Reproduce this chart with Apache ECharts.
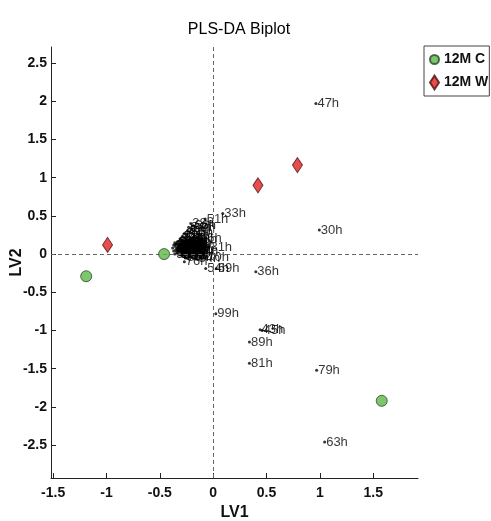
<!DOCTYPE html>
<html><head><meta charset="utf-8">
<script src="https://cdn.jsdelivr.net/npm/echarts@6/dist/echarts.min.js"></script>
<style>html,body{margin:0;padding:0;background:#fff}#c{width:491px;height:521px}</style>
</head><body><div id="c"></div>
<script>
// Scores
const groupNames = ['12M C', '12M W'];
const scoreC = [[-1.19, -0.29], [-0.46, 0.00], [1.58, -1.92]];
const scoreW = [[-0.99, 0.12], [0.42, 0.90], [0.79, 1.165]];
// Loadings (labelled variables)
const loadNames = ['47h','30h','33h','36h','69h','54h','99h','43h','45h','89h','81h','79h','63h','51h','31h','6h','76h','70h',
  '1h','2h','3h','4h','5h','7h','8h','9h','10h','11h','12h','13h','14h','15h','16h','17h','18h','19h','20h',
  '21h','22h','23h','24h','25h','26h','27h','28h','29h','32h','34h','35h','37h','39h','40h','41h','42h','44h',
  '46h','48h','49h','50h','52h','53h','55h','56h','57h','58h','59h','38h','60h','61h','62h','64h','65h','66h',
  '67h','68h','71h','72h','73h','74h','75h','77h','78h','80h','82h','83h','84h'];
const loadX = [0.963,0.995,0.09,0.40,0.03,-0.07,0.025,0.44,0.46,0.34,0.34,0.97,1.045,-0.075,-0.04,-0.07,-0.27,-0.07,
  -0.38,-0.37,-0.37,-0.36,-0.36,-0.355,-0.35,-0.345,-0.34,-0.335,-0.33,-0.325,-0.32,-0.315,-0.31,-0.31,-0.30,-0.30,-0.30,
  -0.295,-0.29,-0.29,-0.29,-0.285,-0.28,-0.28,-0.28,-0.275,-0.275,-0.27,-0.27,-0.27,-0.265,-0.265,-0.26,-0.33,-0.35,
  -0.31,-0.30,-0.28,-0.31,-0.32,-0.34,-0.28,-0.29,-0.31,-0.29,-0.27,-0.21,-0.27,-0.25,-0.24,-0.23,-0.22,-0.19,
  -0.20,-0.26,-0.25,-0.24,-0.24,-0.23,-0.22,-0.20,-0.18,-0.26,-0.22,-0.17,-0.15];
const loadY = [1.97,0.314,0.53,-0.23,-0.19,-0.19,-0.78,-0.99,-1.00,-1.15,-1.43,-1.52,-2.46,0.46,0.09,0.21,-0.10,-0.04,
  0.08,0.12,0.04,0.15,0.00,0.10,0.06,0.13,0.02,0.16,0.09,0.05,0.12,-0.01,0.14,0.08,0.17,0.03,0.11,
  -0.02,0.15,0.06,0.00,0.12,0.09,0.03,0.16,0.07,-0.03,0.13,0.04,0.10,0.01,0.15,0.07,0.00,0.13,
  0.10,0.05,0.14,0.12,0.08,0.06,0.11,0.10,0.20,0.23,0.21,0.40,0.27,0.25,0.31,0.35,0.29,0.37,
  0.33,0.05,0.12,0.02,0.09,0.15,0.06,0.11,0.19,-0.05,-0.02,0.03,-0.06];
// Axis ticks
const xTicks = [-1.5, -1, -0.5, 0, 0.5, 1, 1.5];
const yTicks = [-2.5, -2, -1.5, -1, -0.5, 0, 0.5, 1, 1.5, 2, 2.5];

const loadData = loadNames.map((n, i) => ({ name: n, value: [loadX[i], loadY[i]] }));
const SANS = "'Liberation Sans',Arial,sans-serif";

const chart = echarts.init(document.getElementById('c'), null, { renderer: 'canvas' });
chart.setOption({
  animation: false,
  backgroundColor: '#fff',
  title: { text: 'PLS-DA Biplot', left: 234, textAlign: 'center', top: 17,
    textStyle: { fontFamily: SANS, fontSize: 16, fontWeight: 'normal', color: '#000' } },
  legend: {
    left: 424, top: 46, orient: 'vertical', borderColor: '#444', borderWidth: 1,
    padding: [5, 1, 5, 5], itemGap: 6, itemWidth: 9, itemHeight: 14,
    textStyle: { fontFamily: SANS, fontSize: 14, fontWeight: 'bold', color: '#111', lineHeight: 17 },
    data: groupNames
  },
  grid: { left: 51, top: 47, width: 367, height: 431, containLabel: false, outerBoundsMode: 'none' },
  xAxis: {
    type: 'value', min: -1.52, max: 1.92, name: 'LV1', nameLocation: 'middle', nameGap: 27, nameMoveOverlap: false,
    nameTextStyle: { fontFamily: SANS, fontSize: 16, fontWeight: 'bold', color: '#111' },
    axisLine: { show: true, onZero: false, lineStyle: { color: '#222', width: 1 } },
    axisTick: { show: true, inside: true, length: 5, customValues: xTicks, lineStyle: { color: '#222' } },
    axisLabel: { customValues: xTicks, fontFamily: SANS, fontSize: 14, fontWeight: 'bold', color: '#111', margin: 8 },
    splitLine: { show: false }
  },
  yAxis: {
    type: 'value', min: -2.93, max: 2.71, name: 'LV2', nameLocation: 'middle', nameGap: 26, nameMoveOverlap: false,
    nameTextStyle: { fontFamily: SANS, fontSize: 16, fontWeight: 'bold', color: '#111' },
    axisLine: { show: true, onZero: false, lineStyle: { color: '#222', width: 1 } },
    axisTick: { show: true, inside: true, length: 5, customValues: yTicks, lineStyle: { color: '#222' } },
    axisLabel: { customValues: yTicks, fontFamily: SANS, fontSize: 14, fontWeight: 'bold', color: '#111', margin: 4 },
    splitLine: { show: false }
  },
  series: [
    {
      name: 'loadings', type: 'scatter', symbol: 'circle', symbolSize: 3, z: 2,
      itemStyle: { color: '#000' },
      label: { show: true, position: 'right', distance: 0, formatter: p => p.name,
        fontFamily: SANS, fontSize: 13, color: '#000' },
      data: loadData,
      markLine: {
        silent: true, symbol: 'none', animation: false,
        lineStyle: { type: [4, 3], color: '#666', width: 1 },
        label: { show: false },
        data: [{ xAxis: 0 }, { yAxis: 0 }]
      }
    },
    {
      name: groupNames[0], type: 'scatter', symbol: 'circle', symbolSize: 11, z: 5,
      itemStyle: { color: '#5cb848', borderColor: '#2a4a22', borderWidth: 1 },
      data: scoreC
    },
    {
      name: groupNames[1], type: 'scatter', symbol: 'diamond', symbolSize: [10, 15], z: 5,
      itemStyle: { color: '#e2201e', borderColor: '#4a1010', borderWidth: 1 },
      data: scoreW
    }
  ]
});
</script></body></html>
